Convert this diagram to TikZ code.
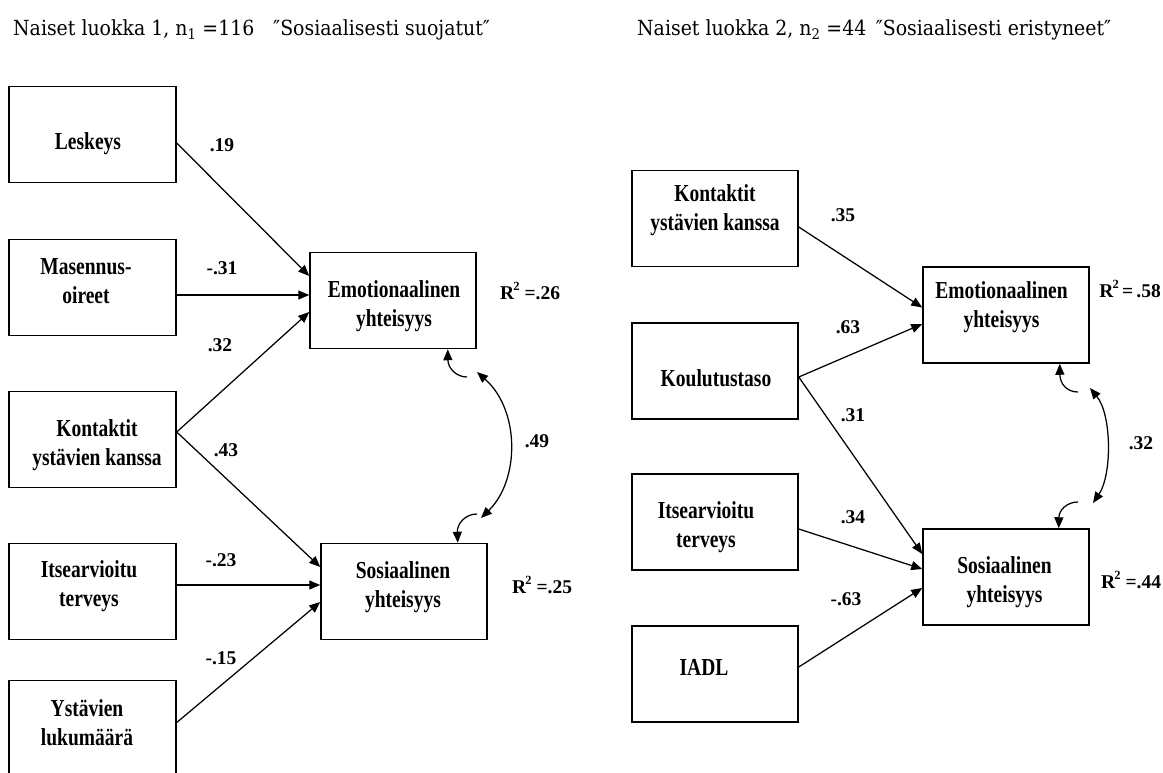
\documentclass[tikz,border=0pt]{standalone}
\usepackage{fontspec}
\setmainfont{Liberation Serif}
\newfontfamily\headfont{DejaVu Serif}
\usetikzlibrary{arrows.meta}
% box captions: bold serif, set a little taller than wide
\newcommand\btxt[1]{\scalebox{1}[1.25]{\begin{tabular}{@{}c@{}}#1\end{tabular}}}
\newcommand\htxt[1]{\scalebox{1}[1.1]{#1}}
\newcommand\rsqtxt[1]{R\kern-0.8pt\raisebox{0.42em}{\fontsize{12.5}{12.5}\selectfont 2}#1}

\begin{document}
\begin{tikzpicture}[x=1pt,y=-1pt,
  box/.style={draw,line width=1.5pt,inner sep=0pt,minimum height=96pt,minimum width=166pt},
  boxtxt/.style={inner sep=0pt,font=\fontsize{19.5}{23.4}\selectfont\bfseries},
  coef/.style={inner sep=0pt,font=\fontsize{19.5}{23.4}\selectfont\bfseries},
  rsq/.style={inner sep=0pt,anchor=west,font=\fontsize{19.5}{23.4}\selectfont\bfseries},
  head/.style={inner sep=0pt,anchor=base west,font=\headfont\fontsize{18.9}{22}\selectfont},
  link/.style={line width=1.25pt,-{Triangle[length=11pt,width=9pt]}},
  cov/.style={line width=1.25pt,{Triangle[length=11pt,width=9pt]}-{Triangle[length=11pt,width=9pt]}},
  stub/.style={line width=1.25pt,-{Triangle[length=11pt,width=9pt]}}]

\useasboundingbox (0,0) rectangle (1163,772);

% ---------- headings
\node[head] (h1) at (13,35) {\htxt{Naiset luokka 1, n\textsubscript{1} =116\quad ″Sosiaalisesti suojatut″}};
\node[head] (h2) at (637,35) {\htxt{Naiset luokka 2, n\textsubscript{2} =44\enspace ″Sosiaalisesti eristyneet″}};

% ---------- group 1
\node[box,minimum width=167pt] (les) at (92.5,134.5) {};
\node[box,minimum width=167pt] (mas) at (92.5,287.5) {};
\node[box,minimum width=167pt] (konL) at (92.5,439.5) {};
\node[box,minimum width=167pt] (itsL) at (92.5,591.5) {};
\node[box,minimum width=167pt] (yst) at (92.5,728.5) {};
\node[box] (emoL) at (393,300.5) {};
\node[box] (sosL) at (404,591.5) {};

\node[boxtxt] (lesT) at (88,143.5) {\btxt{Leskeys}};
\node[boxtxt] (masT) at (86,283.5) {\btxt{Masennus-\\oireet}};
\node[boxtxt] (konLT) at (97,445) {\btxt{Kontaktit\\ystävien kanssa}};
\node[boxtxt] (itsLT) at (89,586) {\btxt{Itsearvioitu\\terveys}};
\node[boxtxt] (ystT) at (87,725.5) {\btxt{Ystävien\\lukumäärä}};
\node[boxtxt] (emoLT) at (394,306.5) {\btxt{Emotionaalinen\\yhteisyys}};
\node[boxtxt] (sosLT) at (403,587.5) {\btxt{Sosiaalinen\\yhteisyys}};

\draw[link] ([yshift=-8.5pt]les.east) -- ([yshift=24.5pt]emoL.west);
\draw[link] ([yshift=-7.5pt]mas.east) -- ([yshift=5.5pt]emoL.west);
\draw[link] ([yshift=7.5pt]konL.east) -- ([yshift=-11.5pt]emoL.west);
\draw[link] ([yshift=7.5pt]konL.east) -- ([yshift=24.5pt]sosL.west);
\draw[link] ([yshift=6.5pt]itsL.east) -- ([yshift=6.5pt]sosL.west);
\draw[link] ([yshift=6pt]yst.east) -- ([yshift=-10.5pt]sosL.west);

\node[coef] (c1) at (222,145) {.19};
\node[coef] (c2) at (222,268) {-.31};
\node[coef] (c3) at (220,345) {.32};
\node[coef] (c4) at (226,450) {.43};
\node[coef] (c5) at (221,560) {-.23};
\node[coef] (c6) at (221,658) {-.15};

\node[rsq] (r1) at (500,291) {\rsqtxt{ =.26}};
\node[rsq] (r2) at (512,585) {\rsqtxt{ =.25}};

% correlation of the two outcomes
\coordinate (a1) at (467,377);
\coordinate (a2) at (477,372);
\coordinate (a3) at (481,518);
\coordinate (a4) at (477,514);
\draw[stub] (a1) .. controls (456,377) and (448,368) .. ([xshift=-29pt]emoL.south east);
\draw[cov] (a2) .. controls (520,410) and (520,480) .. (a3);
\draw[stub] (a4) .. controls (465,514) and (457,524) .. ([xshift=-30pt]sosL.north east);
\node[coef] (c7) at (537,441) {.49};

% ---------- group 2
\node[box] (konR) at (715,218.5) {};
\node[box] (kouR) at (715,371) {};
\node[box] (itsR) at (715,522) {};
\node[box] (iadl) at (715,674) {};
\node[box] (emoR) at (1006,315) {};
\node[box] (sosR) at (1006,577) {};

\node[boxtxt] (konRT) at (715,210.5) {\btxt{Kontaktit\\ystävien kanssa}};
\node[boxtxt] (kouRT) at (716,380.5) {\btxt{Koulutustaso}};
\node[boxtxt] (itsRT) at (706,527) {\btxt{Itsearvioitu\\terveys}};
\node[boxtxt] (iadlT) at (704,670) {\btxt{IADL}};
\node[boxtxt] (emoRT) at (1001.5,307.5) {\btxt{Emotionaalinen\\yhteisyys}};
\node[boxtxt] (sosRT) at (1004.5,582.5) {\btxt{Sosiaalinen\\yhteisyys}};

\draw[link] ([yshift=-8.5pt]konR.east) -- ([yshift=7.5pt]emoR.west);
\draw[link] ([yshift=-6pt]kouR.east) -- ([yshift=-9pt]emoR.west);
\draw[link] ([yshift=-6pt]kouR.east) -- ([yshift=23pt]sosR.west);
\draw[link] ([yshift=-7pt]itsR.east) -- ([yshift=8pt]sosR.west);
\draw[link] ([yshift=7pt]iadl.east) -- ([yshift=-11pt]sosR.west);

\node[coef] (d1) at (843,215) {.35};
\node[coef] (d2) at (848,327) {.63};
\node[coef] (d3) at (853,415) {.31};
\node[coef] (d4) at (853,517) {.34};
\node[coef] (d5) at (846,599) {-.63};

\node[rsq,anchor=east] (r3) at (1161,289) {\rsqtxt{\,=\,.58}};
\node[rsq] (r4) at (1101,580) {\rsqtxt{ =.44}};

\coordinate (b1) at (1078,392);
\coordinate (b2) at (1090,388);
\coordinate (b3) at (1093,503);
\coordinate (b4) at (1078,502);
\draw[stub] (b1) .. controls (1067,392) and (1060,384) .. ([xshift=-30pt]emoR.south east);
\draw[cov] (b2) .. controls (1112,415) and (1112,475) .. (b3);
\draw[stub] (b4) .. controls (1067,502) and (1059,510) .. ([xshift=-31pt]sosR.north east);
\node[coef] (d6) at (1141,443) {.32};

\end{tikzpicture}
\end{document}
